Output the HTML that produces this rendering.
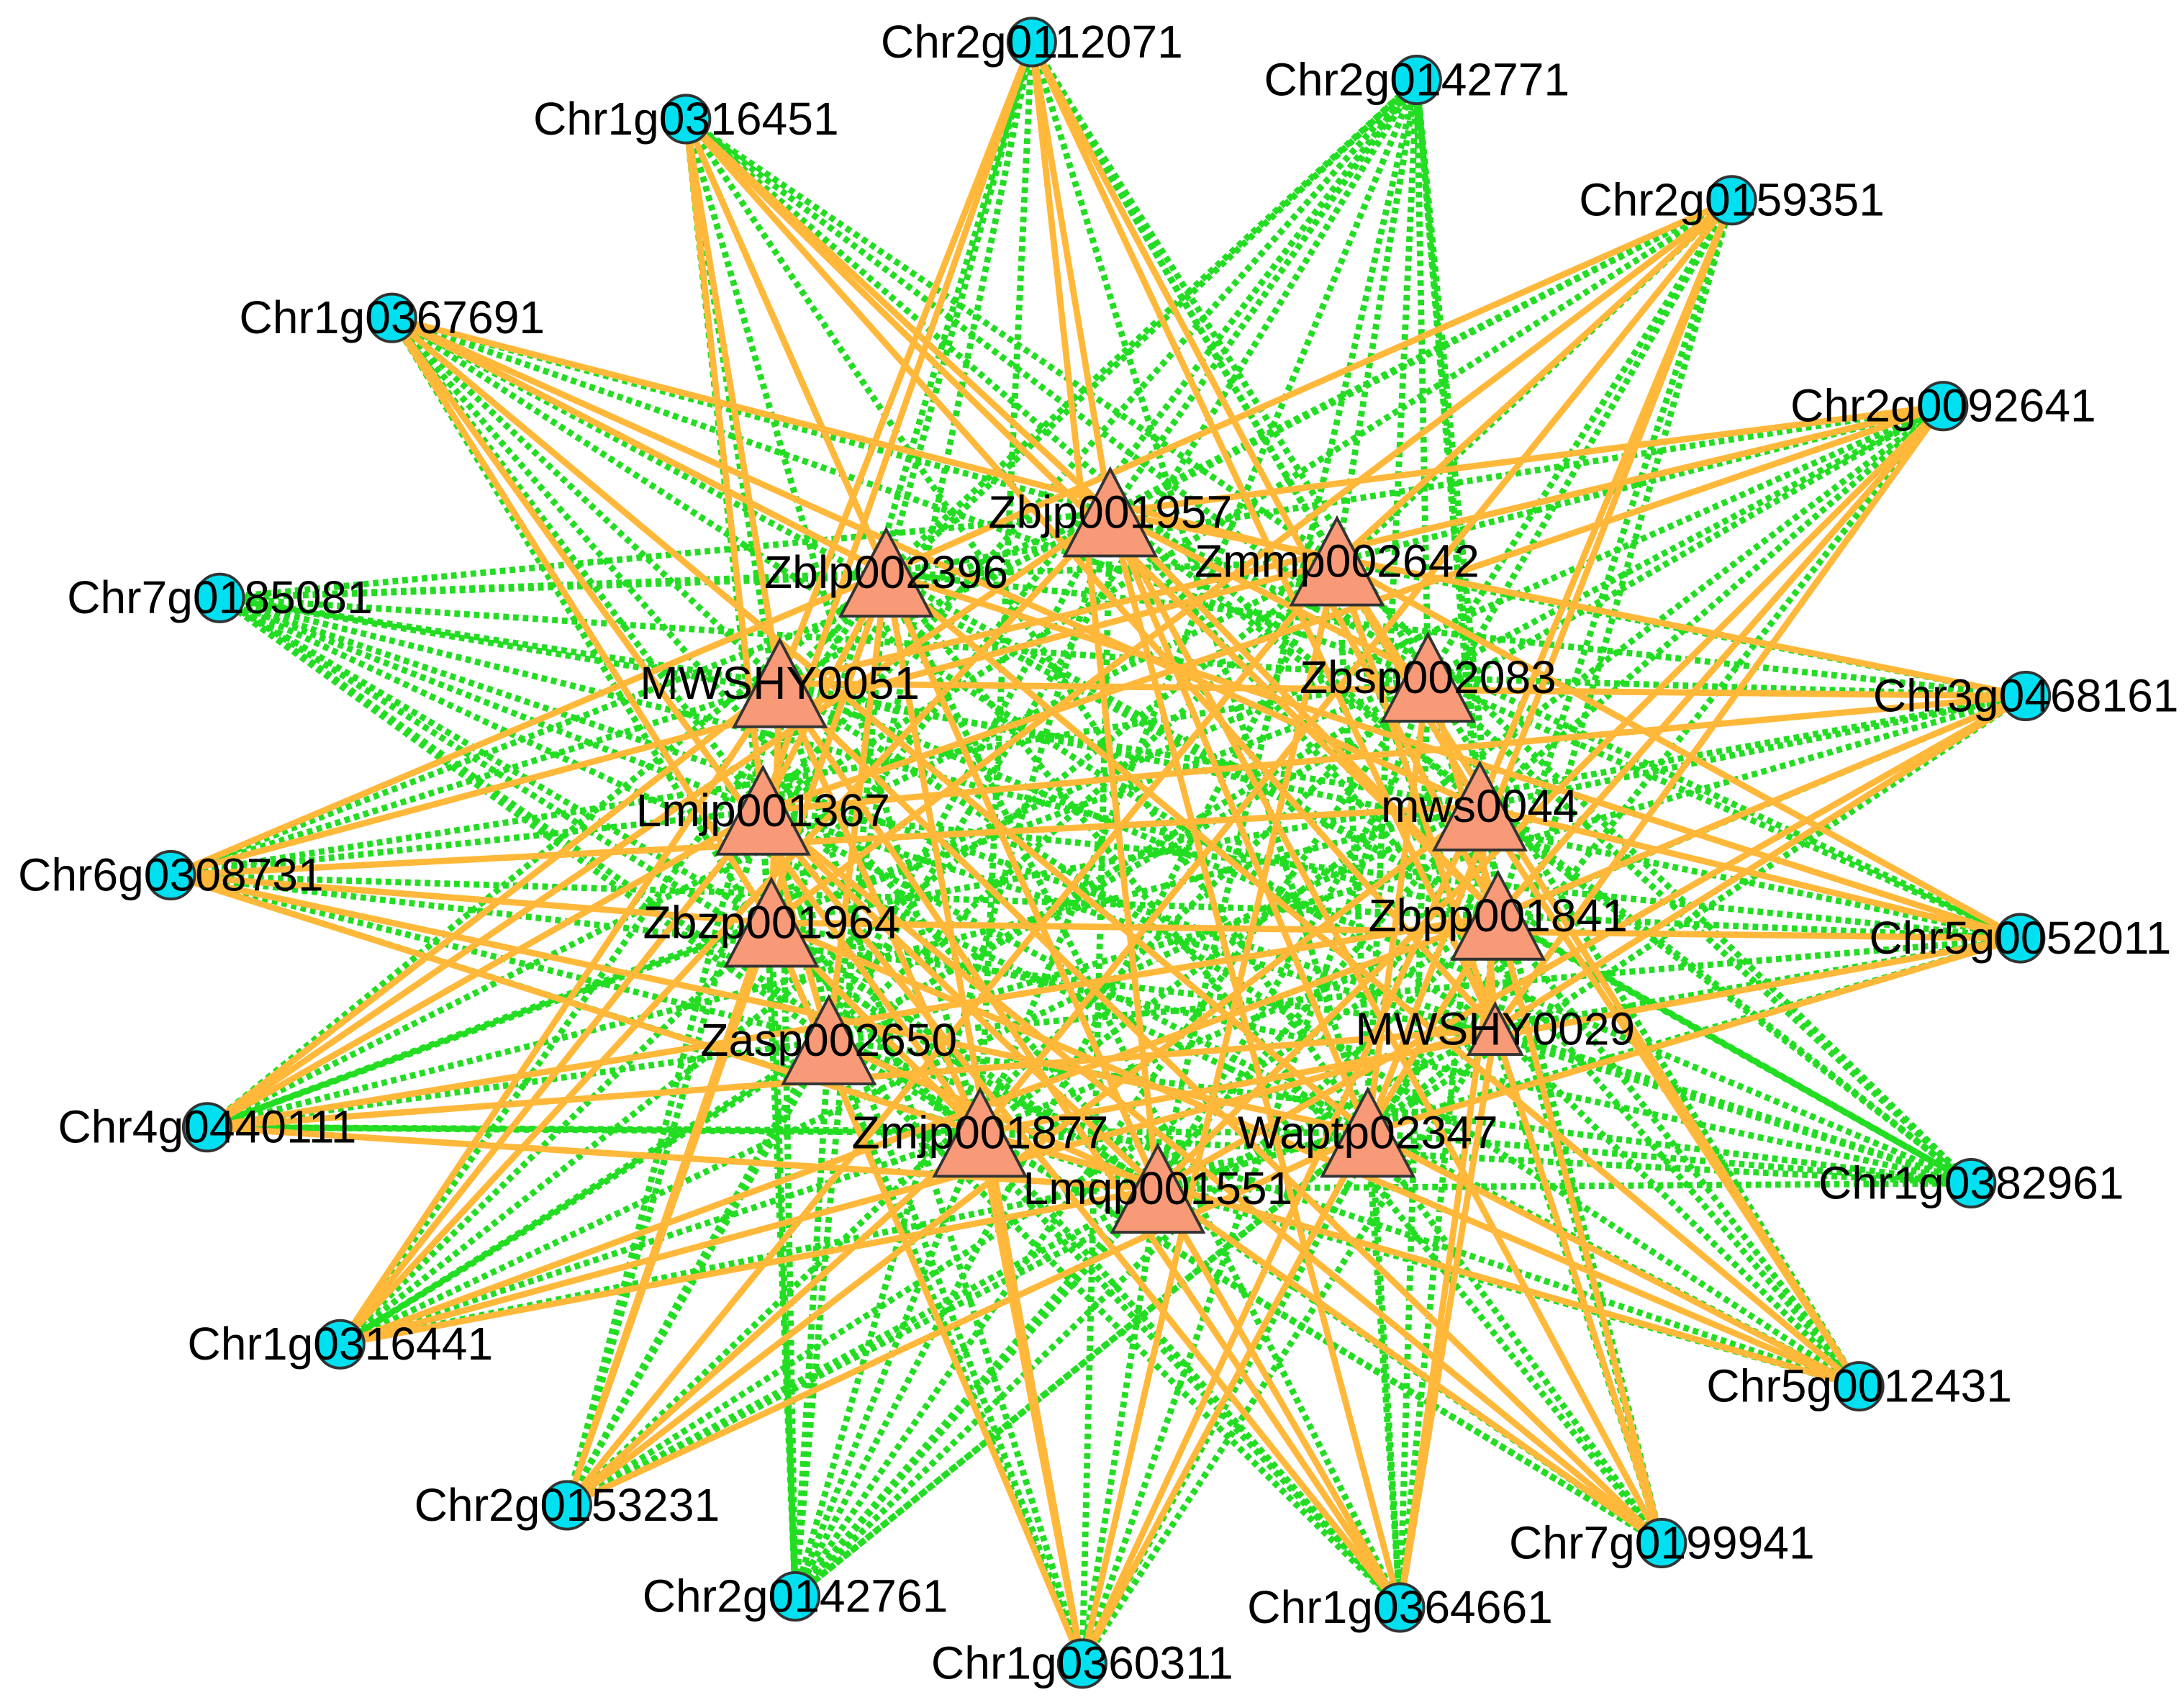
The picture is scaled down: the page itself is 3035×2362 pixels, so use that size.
<!DOCTYPE html>
<html><head><meta charset="utf-8"><style>
html,body{margin:0;padding:0;background:#fff;}
svg{display:block}
text{font-family:"Liberation Sans",Arial,sans-serif;font-size:33px;fill:#000;}
</style></head><body>
<svg id="s" width="3035" height="2362" viewBox="0 0 1560 1214" xmlns="http://www.w3.org/2000/svg">
<g id="edges"></g><g id="nodes"></g><g id="labels"></g>
</svg>
<script>
var C=[["Chr2g0112071",737,30],["Chr2g0142771",1012,57],["Chr1g0316451",490,85],["Chr2g0159351",1237,143],["Chr1g0367691",280,227],["Chr2g0092641",1388,290],["Chr7g0185081",157,427],["Chr3g0468161",1447,497],["Chr6g0308731",122,625],["Chr5g0052011",1443,670],["Chr4g0440111",148,805],["Chr1g0382961",1408,845],["Chr1g0316441",243,960],["Chr5g0012431",1328,990],["Chr2g0153231",405,1075],["Chr7g0199941",1187,1102],["Chr2g0142761",568,1140],["Chr1g0364661",1000,1148],["Chr1g0360311",773,1188]];
var T=[["Zbjp001957",793,366,31],["Zblp002396",633,409,31],["Zmmp002642",955,401,31],["MWSHY0051",557,488,31],["Zbsp002083",1020,484,31],["Lmjp001367",545,579,31],["mws0044",1057,576,31],["Zbzp001964",551,659,31],["Zbpp001841",1070,654,31],["Zasp002650",592,743,31],["MWSHY0029",1068,735,18],["Zmjp001877",700,809,31],["Waptp02347",977,809,31],["Lmqp001551",827,849,31]];
var NS="http://www.w3.org/2000/svg";
function el(p,n,a){var e=document.createElementNS(NS,n);for(var k in a)e.setAttribute(k,a[k]);p.appendChild(e);return e;}
var E=document.getElementById("edges"),N=document.getElementById("nodes"),L=document.getElementById("labels");
var greens=[],oranges=[];
for(var i=0;i<T.length;i++)for(var j=0;j<C.length;j++){
 var h=(i*7+j*13+i*j*3)%5;
 var l={x1:T[i][1],y1:T[i][2],x2:C[j][1],y2:C[j][2]};
 if(h<2)oranges.push(l);else greens.push(l);
}
for(var i=0;i<T.length;i++)for(var k=i+1;k<T.length;k++){
 if((i*5+k*3)%4==0){var l={x1:T[i][1],y1:T[i][2],x2:T[k][1],y2:T[k][2]};if((i+k)%2)greens.push(l);else oranges.push(l);}
}
greens.forEach(function(l){l.stroke="#22dd22";l["stroke-width"]=4.5;l["stroke-dasharray"]="4 3";el(E,"line",l);});
oranges.forEach(function(l){l.stroke="#ffb83a";l["stroke-width"]=4.5;el(E,"line",l);});
C.forEach(function(c){el(N,"circle",{cx:c[1],cy:c[2],r:17,fill:"#00e0f0",stroke:"#333",
"stroke-width":2});var t=el(L,"text",{x:c[1],y:c[2]+11,"text-anchor":"middle"});t.textContent=c[0];});
T.forEach(function(t){var s=t[3],x=t[1],y=t[2];
 el(N,"polygon",{points:(x)+","+(y-s)+" "+(x-s*1.05)+","+(y+s)+" "+(x+s*1.05)+","+(y+s),fill:"#f89a78",stroke:"#333","stroke-width":2});
 var tx=el(L,"text",{x:x,y:y+11,"text-anchor":"middle"});tx.textContent=t[0];});
</script>
</body></html>
